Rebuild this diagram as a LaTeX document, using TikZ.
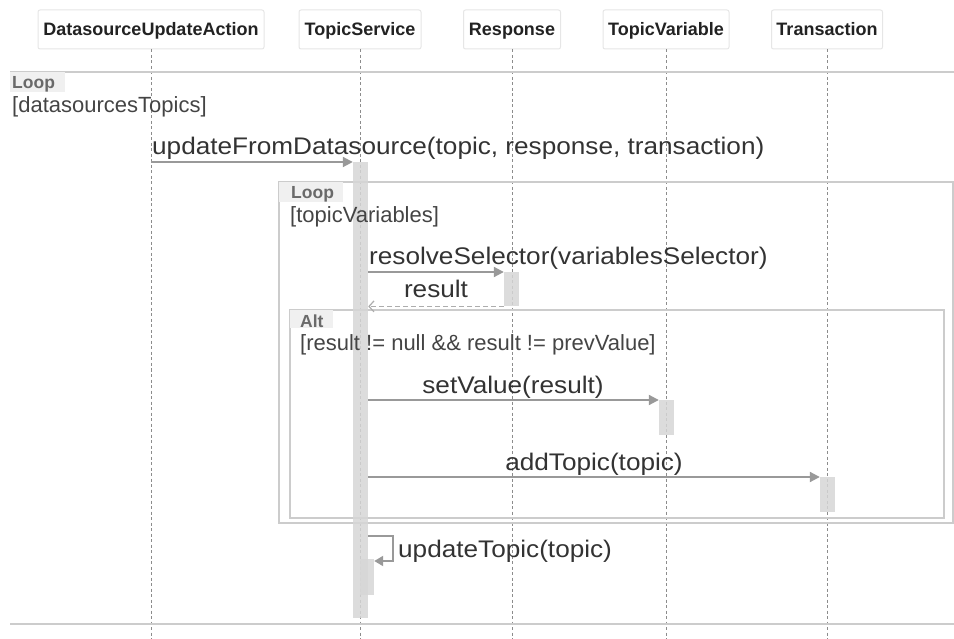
\documentclass[tikz,border=0pt]{standalone}
\usepackage{fontspec}
\setmainfont{Liberation Sans}
\newfontfamily\msgfont[FakeStretch=1.09]{Liberation Sans}
\usetikzlibrary{arrows.meta}

\definecolor{frameline}{HTML}{CCCCCC}
\definecolor{lifeline}{HTML}{8C8C8C}
\definecolor{msgline}{HTML}{999999}
\definecolor{actfill}{HTML}{D6D6D6}
\definecolor{msgtext}{HTML}{333333}
\definecolor{guardtext}{HTML}{444444}
\definecolor{tagfill}{HTML}{F0F0F0}
\definecolor{tagtext}{HTML}{6A6A6A}
\definecolor{headborder}{HTML}{E6E6E6}
\definecolor{headtext}{HTML}{222222}

\tikzset{
  head/.style={draw=headborder, line width=1pt, rounded corners=2pt, fill=white,
    minimum height=39pt, inner sep=0pt, text=headtext, text height=15pt, text depth=2pt,
    font=\fontsize{18}{20}\selectfont\bfseries},
  lifeln/.style={draw=lifeline, line width=0.7pt, dash pattern=on 3pt off 2.5pt},
  actbar/.style={fill=actfill, fill opacity=0.85, draw=none, minimum width=15pt, inner sep=0pt, anchor=north},
  msg/.style={draw=msgline, line width=2pt, -{Triangle[length=10pt,width=10pt]}},
  reply/.style={draw=msgline!80, line width=1.4pt, dash pattern=on 5pt off 3pt,
    -{Straight Barb[length=5pt,width=11pt,line width=1.2pt]}},
  msglabel/.style={inner sep=0pt, text=msgtext, font=\fontsize{24}{28}\msgfont},
  guard/.style={inner sep=0pt, text=guardtext, anchor=base west, font=\fontsize{22}{25}\selectfont},
  fragline/.style={draw=frameline, line width=1.3pt},
  tag/.style={fill=tagfill, inner sep=0pt, anchor=north west},
  tagtxt/.style={inner sep=0pt, text=tagtext, anchor=base west, font=\fontsize{17.5}{19}\selectfont\bfseries},
}

\begin{document}
\begin{tikzpicture}[x=1pt,y=-1pt]
\useasboundingbox (0,0) rectangle (954,639);

% participants
\node[head, minimum width=226pt] (dua) at (151,29.5) {DatasourceUpdateAction};
\node[head, minimum width=122pt] (ts)  at (360,29.5) {TopicService};
\node[head, minimum width=97pt]  (res) at (512,29.5) {Response};
\node[head, minimum width=126pt] (tv)  at (666,29.5) {TopicVariable};
\node[head, minimum width=111pt] (tx)  at (827,29.5) {Transaction};

% lifelines
\foreach \p in {dua,ts,res,tv,tx}
  \draw[lifeln] (\p.south) -- (\p.south |- 0,639);

% outer loop fragment
\draw[fragline] (10,72) -- (954,72);
\draw[fragline] (10,624) -- (954,624);
\node[tag, minimum width=55pt, minimum height=20pt] (tagA) at (10,72) {};

% inner loop fragment
\draw[fragline] (279,182) rectangle (953,523);
\node[tag, minimum width=64pt, minimum height=20pt] (tagB) at (279,182) {};

% alt fragment
\draw[fragline] (290,310) rectangle (944,518);
\node[tag, minimum width=43pt, minimum height=18pt] (tagC) at (290,310) {};

% activation bars
\node[actbar, minimum height=456pt] (tsbar)  at (360.5,162) {};
\node[actbar, minimum height=34pt]  (resbar) at (511.5,272) {};
\node[actbar, minimum height=35pt]  (tvbar)  at (666.5,400) {};
\node[actbar, minimum height=35pt]  (txbar)  at (827.5,477) {};
\node[actbar, minimum width=14pt, minimum height=36pt] (subbar) at (367,559) {};

% fragment labels and guards
\node[tagtxt] (loopA) at (12,89) {Loop};
\node[guard] (guardA) at (12,113) {[datasourcesTopics]};
\node[tagtxt] (loopB) at (291,199) {Loop};
\node[guard] (guardB) at (290,223) {[topicVariables]};
\node[tagtxt] (altC) at (300,327) {Alt};
\node[guard] (guardC) at (300,351) {[result != null \&\& result != prevValue]};

% messages
\coordinate (m1s) at (151,162);
\draw[msg] (m1s) -- (tsbar.north west);
\node[msglabel, anchor=base west] (l1) at (152,155) {updateFromDatasource(topic, response, transaction)};

\draw[msg] (tsbar.east |- resbar.north) -- (resbar.north west);
\node[msglabel, anchor=base west] (l2) at (369,265) {resolveSelector(variablesSelector)};

\draw[reply] (resbar.south west) -- (tsbar.east |- resbar.south);
\node[msglabel, anchor=base] (l3) at (436,298) {result};

\draw[msg] (tsbar.east |- tvbar.north) -- (tvbar.north west);
\node[msglabel, anchor=base] (l4) at (513,393) {setValue(result)};

\draw[msg] (tsbar.east |- txbar.north) -- (txbar.north west);
\node[msglabel, anchor=base] (l5) at (594,470) {addTopic(topic)};

% self call
\coordinate (selfA) at (393,536);
\draw[draw=msgline, line width=2pt, -{Triangle[length=9pt,width=10pt]}]
  (tsbar.east |- selfA) -- (selfA) -- (selfA |- 0,561) -- (subbar.east |- 0,561);
\node[msglabel, anchor=base west] (l6) at (398,557) {updateTopic(topic)};
\end{tikzpicture}
\end{document}
